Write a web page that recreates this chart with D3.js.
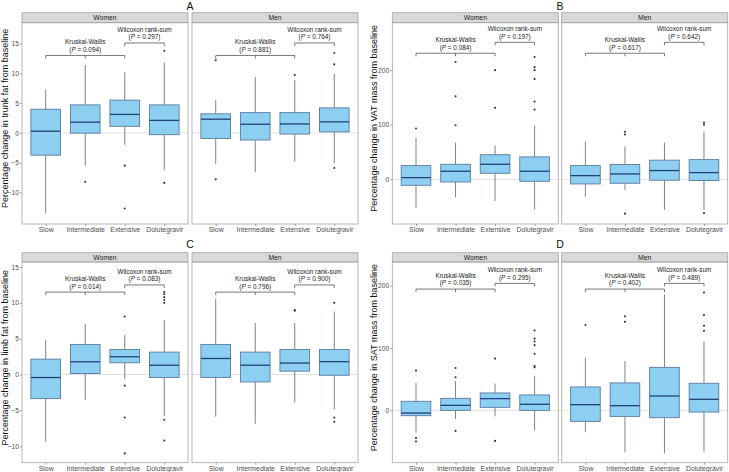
<!DOCTYPE html>
<html>
<head>
<meta charset="utf-8">
<script src="https://cdn.jsdelivr.net/npm/d3@7/dist/d3.min.js"></script>
<style>
  body { margin: 0; background: #fff; }
  svg { display: block; font-family: "Liberation Sans", Arial, sans-serif; }
</style>
</head>
<body>
<svg id="chart" width="729" height="472"></svg>
<script>
// ---------------- DATA ----------------
const categories = ["Slow", "Intermediate", "Extensive", "Dolutegravir"];
const facets = ["Women", "Men"];

// box stats per category: [lower whisker, Q1, median, Q3, upper whisker]
const trunkWomen = [[-13.5, -3.74, 0.28, 3.97, 7.3], [-5.5, -0.05, 1.8, 4.7, 11.4], [-2.0, 1.1, 3.1, 5.5, 10.2], [-6.3, -0.3, 2.1, 4.7, 11.8]];
const trunkWomenOut = [[], [-8.2], [-5.5, -12.7], [13.8, -8.4]];
const trunkMen = [[-5.2, -0.95, 2.3, 3.2, 5.5], [-6.6, -1.2, 1.45, 3.4, 9.4], [-4.8, -0.2, 1.5, 3.4, 8.9], [-5.1, 0.17, 1.85, 4.2, 9.9]];
const trunkMenOut = [[12.2, -7.8], [], [9.7], [13.4, 11.5, -5.9]];

const vatWomen = [[-53, -11, 3, 25, 77], [-33, -5, 14.7, 27.5, 67], [-40, 11, 27.5, 45, 62], [-55, -3.7, 14.7, 41, 98]];
const vatWomenOut = [[93], [99, 152, 215], [131, 200], [128, 142.5, 184, 200, 205.5, 224]];
const vatMen = [[-32, -8.6, 6.7, 25, 69], [-19.6, -7.3, 9.8, 27, 60], [-56, -1.8, 16, 35, 67], [-56, -2.4, 12.2, 36, 87.5]];
const vatMenOut = [[], [82, 87, -63], [], [100, 104, -62]];

const limbWomen = [[-9.4, -3.36, -0.42, 2.15, 4.77], [-3.55, 0.14, 1.78, 4.2, 7.06], [-0.65, 1.64, 2.48, 3.5, 5.5], [-5.8, -0.42, 1.3, 3.13, 7.6]];
const limbWomenOut = [[], [], [8.1, -1.55, -6.0, -11], [11.5, 11.2, 10.8, 10.4, 10.0, -6.3, -9.2]];
const limbMen = [[-5.9, -0.42, 2.24, 4.2, 10.56], [-6.87, -1.03, 1.3, 3.13, 7.2], [-3.9, 0.47, 1.6, 3.5, 7.2], [-4.9, -0.1, 1.8, 3.5, 8.8]];
const limbMenOut = [[], [], [8.9, 9.0], [10.0, -6.0, -6.6]];

const satWomen = [[-36, -8.6, -4.3, 14.5, 44], [-14, 0, 8, 19.3, 47], [-9.7, 4.8, 18.8, 27.9, 43], [-32, 0, 9.7, 24.7, 55]];
const satWomenOut = [[64, -44.5, -50], [53, 68, -33], [83, -49], [69, 71, 90.6, 104.6, 110.5, 115, 128]];
const satMen = [[-35, -17.7, 9.1, 37.5, 84], [-67.5, -9.7, 7.5, 44, 79], [-69, -11.8, 23, 69, 186], [-66.5, -2.7, 17.7, 43.4, 110.5]];
const satMenOut = [[137], [142, 151], [], [127.6, 135.7, 152.8, 189]];

// p-values: [Kruskal-Wallis, Wilcoxon] for Women, Men
const trunkP = [["0.094", "0.297"], ["0.881", "0.764"]];
const vatP = [["0.084", "0.197"], ["0.617", "0.642"]];
const limbP = [["0.014", "0.083"], ["0.796", "0.900"]];
const satP = [["0.035", "0.295"], ["0.402", "0.489"]];

// bracket heights (data units): [Kruskal-Wallis, Wilcoxon]
const trunkBracket = [13.0, 15.1];
const vatBracket = [231, 251];
const limbBracket = [11.5, 12.5];
const satBracket = [194.6, 203.7];

const trunkTicks = [-10, -5, 0, 5, 10, 15];
const vatTicks = [0, 100, 200];
const limbTicks = [-10, -5, 0, 5, 10, 15];
const satTicks = [0, 100, 200];

const panelTitles = ["A", "B", "C", "D"];
const yTitles = [
  "Percentage change in trunk fat from baseline",
  "Percentage change in VAT mass from baseline",
  "Percentage change in limb fat from baseline",
  "Percentage change in SAT mass from baseline"
];

// ---------------- LAYOUT ----------------
const panels = [
  { title: panelTitles[0], ytitle: yTitles[0], stats: [trunkWomen, trunkMen], outs: [trunkWomenOut, trunkMenOut], p: trunkP, br: trunkBracket, ticks: trunkTicks, domain: [-15.3, 18.5],
    x0: 22, gap: 4, stripTop: 12.7, top: 22.7, bottom: 224, ylabX: 5, titleX: 190, titleY: 10 },
  { title: panelTitles[1], ytitle: yTitles[1], stats: [vatWomen, vatMen], outs: [vatWomenOut, vatMenOut], p: vatP, br: vatBracket, ticks: vatTicks, domain: [-82, 287],
    x0: 392.3, gap: 3.4, stripTop: 12.7, top: 22.7, bottom: 224, ylabX: 373.5, titleX: 560, titleY: 10 },
  { title: panelTitles[2], ytitle: yTitles[2], stats: [limbWomen, limbMen], outs: [limbWomenOut, limbMenOut], p: limbP, br: limbBracket, ticks: limbTicks, domain: [-12.3, 15.7],
    x0: 22, gap: 4, stripTop: 252.7, top: 262, bottom: 462.7, ylabX: 5, titleX: 190, titleY: 247.5 },
  { title: panelTitles[3], ytitle: yTitles[3], stats: [satWomen, satMen], outs: [satWomenOut, satMenOut], p: satP, br: satBracket, ticks: satTicks, domain: [-84, 238],
    x0: 392.3, gap: 3.4, stripTop: 252.7, top: 262, bottom: 462.7, ylabX: 373.5, titleX: 560, titleY: 247.5 }
];
const facetW = 166;

const col = {
  fill: "#8ccff0", boxStroke: "#5b7aa0", median: "#22407a", whisker: "#6b7486",
  outlier: "#2e3440", border: "#a6a6a6", strip: "#d9d9d9", zero: "#e2e2e2", tick: "#4d4d4d"
};

const svg = d3.select("#chart");

panels.forEach(P => {
  const g = svg.append("g");
  const y = d3.scaleLinear().domain(P.domain).range([P.bottom, P.top]);

  // panel title
  g.append("text").attr("x", P.titleX).attr("y", P.titleY).attr("text-anchor", "middle")
    .attr("font-size", 10.5).attr("fill", "#111").text(P.title);

  // y title
  const ymid = (P.stripTop + P.bottom) / 2;
  g.append("text").attr("transform", `translate(${P.ylabX + 3},${ymid}) rotate(-90)`)
    .attr("text-anchor", "middle").attr("font-size", 9).attr("fill", "#111").text(P.ytitle);

  facets.forEach((f, fi) => {
    const left = P.x0 + fi * (facetW + P.gap);
    const right = left + facetW;
    const x = d3.scalePoint().domain(categories).range([left, right]).padding(0.6);
    const bw = x.step() * 0.75;
    const fg = g.append("g");

    // strip
    fg.append("rect").attr("x", left).attr("y", P.stripTop).attr("width", facetW).attr("height", P.top - P.stripTop)
      .attr("fill", col.strip).attr("stroke", col.border).attr("stroke-width", 0.8);
    fg.append("text").attr("x", (left + right) / 2).attr("y", (P.stripTop + P.top) / 2 + 2.4)
      .attr("text-anchor", "middle").attr("font-size", 6.8).attr("fill", "#1a1a1a").text(f);

    // zero line
    fg.append("line").attr("x1", left).attr("x2", right).attr("y1", y(0)).attr("y2", y(0))
      .attr("stroke", col.zero).attr("stroke-width", 1);

    // boxes
    const stats = P.stats[fi];
    categories.forEach((c, ci) => {
      const s = stats[ci];
      const cx = x(c);
      fg.append("line").attr("x1", cx).attr("x2", cx).attr("y1", y(s[0])).attr("y2", y(s[1]))
        .attr("stroke", col.whisker).attr("stroke-width", 0.9);
      fg.append("line").attr("x1", cx).attr("x2", cx).attr("y1", y(s[3])).attr("y2", y(s[4]))
        .attr("stroke", col.whisker).attr("stroke-width", 0.9);
      fg.append("rect").attr("x", cx - bw / 2).attr("y", y(s[3])).attr("width", bw).attr("height", y(s[1]) - y(s[3]))
        .attr("fill", col.fill).attr("stroke", col.boxStroke).attr("stroke-width", 0.9);
      fg.append("line").attr("x1", cx - bw / 2).attr("x2", cx + bw / 2).attr("y1", y(s[2])).attr("y2", y(s[2]))
        .attr("stroke", col.median).attr("stroke-width", 1.3);
      P.outs[fi][ci].forEach(v => {
        fg.append("circle").attr("cx", cx).attr("cy", y(v)).attr("r", 1.05).attr("fill", col.outlier);
      });
    });

    // brackets
    const tickLen = 3;
    const kwY = y(P.br[0]), wY = y(P.br[1]);
    const kwPath = `M${x(categories[0])},${kwY + tickLen}V${kwY}H${x(categories[2])}V${kwY + tickLen}M${x(categories[1])},${kwY}V${kwY + tickLen}`;
    fg.append("path").attr("d", kwPath).attr("fill", "none").attr("stroke", "#555").attr("stroke-width", 0.8);
    const wPath = `M${x(categories[2])},${wY + tickLen}V${wY}H${x(categories[3])}V${wY + tickLen}`;
    fg.append("path").attr("d", wPath).attr("fill", "none").attr("stroke", "#555").attr("stroke-width", 0.8);

    const ann = (cx, by, line1, pval) => {
      fg.append("text").attr("x", cx).attr("y", by - 11.2).attr("text-anchor", "middle")
        .attr("font-size", 6.4).attr("fill", "#222").text(line1);
      const t = fg.append("text").attr("x", cx).attr("y", by - 3.6).attr("text-anchor", "middle")
        .attr("font-size", 6.4).attr("fill", "#222");
      t.append("tspan").text("(");
      t.append("tspan").attr("font-style", "italic").text("P");
      t.append("tspan").text(" = " + pval + ")");
    };
    ann(x(categories[1]), kwY, "Kruskal-Wallis", P.p[fi][0]);
    ann((x(categories[2]) + x(categories[3])) / 2, wY, "Wilcoxon rank-sum", P.p[fi][1]);

    // panel border
    fg.append("rect").attr("x", left).attr("y", P.top).attr("width", facetW).attr("height", P.bottom - P.top)
      .attr("fill", "none").attr("stroke", col.border).attr("stroke-width", 0.8);

    // x axis
    const xa = fg.append("g").attr("transform", `translate(0,${P.bottom})`)
      .call(d3.axisBottom(x).tickSize(2).tickPadding(1.5));
    xa.select(".domain").remove();
    xa.selectAll("line").attr("stroke", "#666").attr("stroke-width", 0.6);
    xa.selectAll("text").attr("font-size", 6.9).attr("fill", col.tick).attr("font-family", "Liberation Sans, Arial, sans-serif");

    // y axis on first facet
    if (fi === 0) {
      const ya = fg.append("g").attr("transform", `translate(${left},0)`)
        .call(d3.axisLeft(y).tickValues(P.ticks).tickSize(2).tickPadding(1.2));
      ya.select(".domain").remove();
      ya.selectAll("line").attr("stroke", "#666").attr("stroke-width", 0.6);
      ya.selectAll("text").attr("font-size", 6.6).attr("fill", col.tick).attr("font-family", "Liberation Sans, Arial, sans-serif");
    }
  });
});
</script>
</body>
</html>
